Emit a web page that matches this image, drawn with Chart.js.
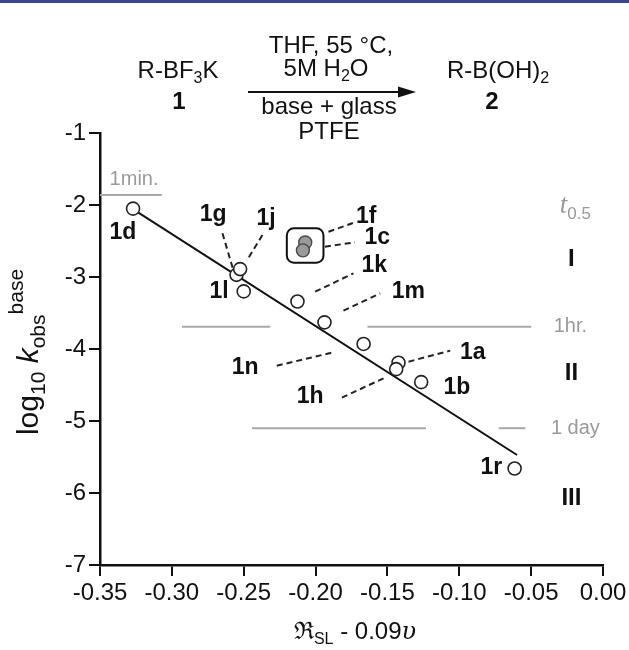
<!DOCTYPE html>
<html>
<head>
<meta charset="utf-8">
<script src="https://cdn.jsdelivr.net/npm/chart.js@4.4.0/dist/chart.umd.min.js"></script>
<style>
  html, body { margin: 0; padding: 0; background: #fff; }
  #wrap { width: 629px; height: 650px; position: relative; }
</style>
</head>
<body>
<div id="wrap"><canvas id="plot"></canvas></div>
<script>
// open circles
const compounds = ['1d', '1g', '1j', '1l', '1k', '1m', '1n', '1a', '1h', '1b', '1r']
const sigmaX = [-0.327, -0.255, -0.2525, -0.250, -0.2126, -0.1938, -0.1666, -0.1423, -0.1439, -0.1265, -0.0615]
const logK = [-2.05, -2.97, -2.89, -3.20, -3.34, -3.63, -3.93, -4.19, -4.28, -4.46, -5.66]

// grey filled circles inside the box
const boxedCompounds = ['1f', '1c']
const boxedX = [-0.2072, -0.2088]
const boxedY = [-2.52, -2.63]

// fit line
const fitX = [-0.3233, -0.0598]
const fitY = [-2.107, -5.472]

// ticks
const xTicks = [-0.35, -0.30, -0.25, -0.20, -0.15, -0.10, -0.05, 0.00]
const yTicks = [-7, -6, -5, -4, -3, -2, -1]

// half-life reference lines
const halfLifeNames = ['1min.', '1hr.', '1 day']
const halfLifeY = [-1.86, -3.69, -5.10]
const halfLifeSegments = [
  [[-0.35, -0.307]],
  [[-0.293, -0.2316], [-0.1639, -0.05]],
  [[-0.2442, -0.1232], [-0.0726, -0.054]]
]
const halfLifeLabelX = [-0.3263, -0.0227, -0.0192]
const halfLifeLabelY = [-1.65, -3.69, -5.10]

// compound labels
const labelNames = ['1d', '1g', '1j', '1l', '1k', '1m', '1n', '1a', '1h', '1b', '1r', '1f', '1c']
const labelX = [-0.334, -0.2713, -0.2344, -0.2671, -0.1592, -0.1355, -0.249, -0.0906, -0.2038, -0.1016, -0.0777, -0.1648, -0.1571]
const labelY = [-2.389, -2.139, -2.194, -3.208, -2.847, -3.208, -4.264, -4.056, -4.667, -4.542, -5.653, -2.167, -2.458]

// dashed leaders
const leaderNames = ['1g', '1j', '1f', '1c', '1k', '1m', '1n', '1h', '1a']
const leaderX0 = [-0.2648, -0.237, -0.191, -0.1935, -0.2003, -0.1806, -0.227, -0.1817, -0.1353]
const leaderY0 = [-2.393, -2.417, -2.371, -2.579, -3.204, -3.468, -4.232, -4.676, -4.176]
const leaderX1 = [-0.2576, -0.2479, -0.174, -0.1726, -0.1736, -0.155, -0.1876, -0.1527, -0.1063]
const leaderY1 = [-2.879, -2.774, -2.25, -2.518, -2.949, -3.226, -4.046, -4.407, -4.023]

// box around 1f / 1c
const boxX = [-0.22, -0.1945]
const boxY = [-2.324, -2.801]

// regions
const regionNames = ['I', 'II', 'III']
const regionY = [-2.75, -4.34, -6.07]
const regionX = -0.022

const SANS = '"Liberation Sans", Arial, sans-serif'

function rich(ctx, x, y, parts, align) {
  let w = 0
  parts.forEach(p => { ctx.font = p[1]; w += ctx.measureText(p[0]).width })
  let cx = align === 'center' ? x - w / 2 : (align === 'right' ? x - w : x)
  ctx.textAlign = 'left'
  ctx.textBaseline = 'alphabetic'
  parts.forEach(p => {
    ctx.font = p[1]
    ctx.fillText(p[0], cx, y + (p[2] || 0))
    cx += ctx.measureText(p[0]).width
  })
}

const extras = {
  id: 'extras',
  afterDraw(chart) {
    const ctx = chart.ctx
    const sx = chart.scales.x
    const sy = chart.scales.y
    ctx.save()

    // blue strip at the top
    ctx.fillStyle = '#3b4494'
    ctx.fillRect(0, 0, 629, 3)

    // reaction scheme
    ctx.fillStyle = '#111'
    rich(ctx, 178, 78, [['R-BF', '24px ' + SANS], ['3', '16px ' + SANS, 5], ['K', '24px ' + SANS]], 'center')
    rich(ctx, 179, 109, [['1', 'bold 24px ' + SANS]], 'center')
    rich(ctx, 331, 53, [['THF, 55 °C,', '24px ' + SANS]], 'center')
    rich(ctx, 326, 76, [['5M H', '24px ' + SANS], ['2', '16px ' + SANS, 5], ['O', '24px ' + SANS]], 'center')
    rich(ctx, 329, 114, [['base + glass', '24px ' + SANS]], 'center')
    rich(ctx, 329, 139, [['PTFE', '24px ' + SANS]], 'center')
    rich(ctx, 498, 78, [['R-B(OH)', '24px ' + SANS], ['2', '16px ' + SANS, 5]], 'center')
    rich(ctx, 492, 109, [['2', 'bold 24px ' + SANS]], 'center')
    ctx.strokeStyle = '#111'
    ctx.lineWidth = 2
    ctx.beginPath()
    ctx.moveTo(248, 92)
    ctx.lineTo(402, 92)
    ctx.stroke()
    ctx.beginPath()
    ctx.moveTo(416, 92)
    ctx.lineTo(398, 86.5)
    ctx.lineTo(398, 97.5)
    ctx.closePath()
    ctx.fill()

    // rounded box
    const bx0 = sx.getPixelForValue(boxX[0]), bx1 = sx.getPixelForValue(boxX[1])
    const by0 = sy.getPixelForValue(boxY[0]), by1 = sy.getPixelForValue(boxY[1])
    ctx.strokeStyle = '#111'
    ctx.lineWidth = 2
    ctx.beginPath()
    ctx.roundRect(bx0, by0, bx1 - bx0, by1 - by0, 7)
    ctx.stroke()

    // compound labels
    ctx.fillStyle = '#111'
    ctx.font = 'bold 23px ' + SANS
    ctx.textAlign = 'center'
    ctx.textBaseline = 'middle'
    labelNames.forEach((n, i) => {
      ctx.fillText(n, sx.getPixelForValue(labelX[i]), sy.getPixelForValue(labelY[i]))
    })

    // region numerals
    ctx.font = 'bold 24px ' + SANS
    regionNames.forEach((n, i) => {
      ctx.fillText(n, sx.getPixelForValue(regionX), sy.getPixelForValue(regionY[i]))
    })

    // half-life labels
    ctx.fillStyle = '#9a9a9a'
    ctx.font = '20px ' + SANS
    halfLifeNames.forEach((n, i) => {
      ctx.fillText(n, sx.getPixelForValue(halfLifeLabelX[i]), sy.getPixelForValue(halfLifeLabelY[i]))
    })
    rich(ctx, sx.getPixelForValue(-0.0192), sy.getPixelForValue(-2.0) + 8,
      [['t', 'italic 27px "Liberation Serif", serif'], ['0.5', '17px ' + SANS, 6]], 'center')

    // axis titles
    ctx.fillStyle = '#111'
    rich(ctx, 355, 639, [
      ['\u211C', '24px "DejaVu Serif", serif'],
      ['SL', '16px ' + SANS, 5],
      [' - 0.09', '24px ' + SANS],
      ['\u03C5', 'italic 24px "DejaVu Serif", serif']
    ], 'center')
    ctx.translate(38, 352)
    ctx.rotate(-Math.PI / 2)
    rich(ctx, 0, 0, [
      ['log', '30px ' + SANS],
      ['10', '21px ' + SANS, 7],
      [' ', '30px ' + SANS],
      ['k', 'italic 30px ' + SANS],
      ['obs', '21px ' + SANS, 7],
      ['base', '21px ' + SANS, -15]
    ], 'center')
    ctx.restore()
  }
}

const lineBase = { showLine: true, pointRadius: 0, fill: false }

const datasets = [
  {
    label: 'compounds',
    data: compounds.map((c, i) => ({ x: sigmaX[i], y: logK[i] })),
    pointRadius: 6.5,
    pointBackgroundColor: '#fff',
    pointBorderColor: '#222',
    pointBorderWidth: 1.6,
    order: 0
  },
  {
    label: 'boxed',
    data: boxedCompounds.map((c, i) => ({ x: boxedX[i], y: boxedY[i] })),
    pointRadius: 6.5,
    pointBackgroundColor: '#9a9a9a',
    pointBorderColor: '#4a4a4a',
    pointBorderWidth: 1.4,
    order: 0
  },
  Object.assign({
    label: 'fit',
    data: fitX.map((v, i) => ({ x: v, y: fitY[i] })),
    borderColor: '#111',
    borderWidth: 2,
    order: 2
  }, lineBase)
]

halfLifeSegments.forEach((segs, i) => {
  segs.forEach(s => {
    datasets.push(Object.assign({
      label: halfLifeNames[i],
      data: [{ x: s[0], y: halfLifeY[i] }, { x: s[1], y: halfLifeY[i] }],
      borderColor: '#a8a8a8',
      borderWidth: 2,
      order: 3
    }, lineBase))
  })
})

leaderNames.forEach((n, i) => {
  datasets.push(Object.assign({
    label: 'leader ' + n,
    data: [{ x: leaderX0[i], y: leaderY0[i] }, { x: leaderX1[i], y: leaderY1[i] }],
    borderColor: '#222',
    borderWidth: 2,
    borderDash: [6, 4],
    order: 3
  }, lineBase))
})

const axisFont = { family: SANS, size: 24 }

new Chart(document.getElementById('plot'), {
  type: 'scatter',
  data: { datasets: datasets },
  options: {
    responsive: true,
    maintainAspectRatio: false,
    animation: false,
    events: [],
    layout: { padding: { left: 0, right: 26, top: 133, bottom: 0 } },
    plugins: {
      legend: { display: false },
      tooltip: { enabled: false }
    },
    scales: {
      x: {
        type: 'linear',
        min: -0.35,
        max: 0,
        afterBuildTicks: s => { s.ticks = xTicks.map(v => ({ value: v })) },
        afterFit: s => { s.height = 85; s.paddingLeft = 0; s.paddingRight = 0 },
        ticks: {
          callback: v => v.toFixed(2),
          font: axisFont,
          color: '#111',
          padding: 3,
          maxRotation: 0,
          autoSkip: false
        },
        grid: { drawOnChartArea: false, drawTicks: true, tickLength: 11, color: '#111', lineWidth: 2 },
        border: { display: true, color: '#111', width: 2.5 }
      },
      y: {
        type: 'linear',
        min: -7,
        max: -1,
        afterBuildTicks: s => { s.ticks = yTicks.map(v => ({ value: v })) },
        afterFit: s => { s.width = 100; s.paddingTop = 0; s.paddingBottom = 0 },
        ticks: {
          callback: v => String(v),
          font: axisFont,
          color: '#111',
          padding: 3
        },
        grid: { drawOnChartArea: false, drawTicks: true, tickLength: 11, color: '#111', lineWidth: 2 },
        border: { display: true, color: '#111', width: 2.5 }
      }
    }
  },
  plugins: [extras]
})
</script>
</body>
</html>
